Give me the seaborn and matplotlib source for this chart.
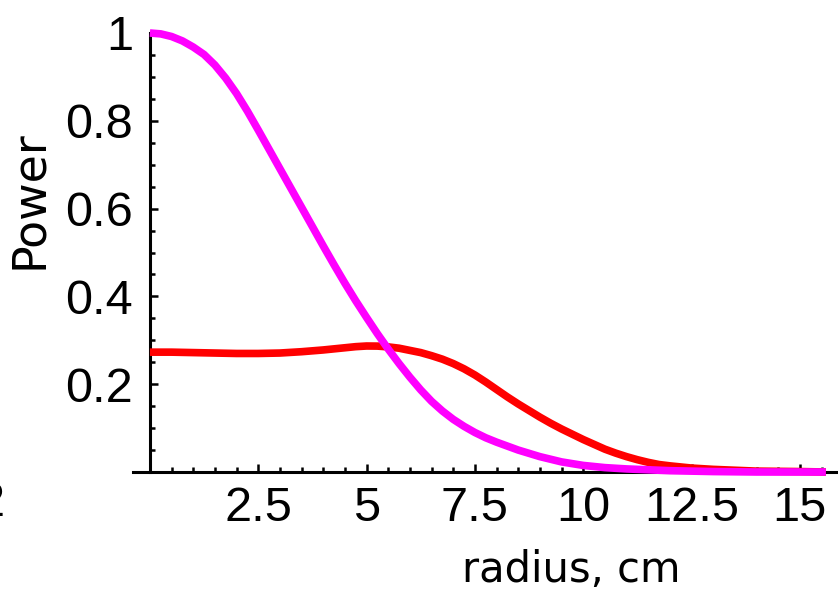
import matplotlib
matplotlib.use("Agg")
import matplotlib.pyplot as plt
import seaborn as sns
import pandas as pd
from matplotlib.ticker import FixedLocator, MultipleLocator, FixedFormatter

# ---- data ----
radius_magenta = [0, 0.25, 0.5, 0.75, 1.0, 1.25, 1.5, 1.75, 2.0, 2.25, 2.5, 2.75,
                  3.0, 3.25, 3.5, 3.75, 4.0, 4.25, 4.5, 4.75, 5.0, 5.25, 5.5, 5.75,
                  6.0, 6.25, 6.5, 6.75, 7.0, 7.25, 7.5, 7.75, 8.0, 8.5, 9.0, 9.5,
                  10.0, 10.5, 11.0, 11.5, 12.0, 12.5, 13.0, 13.5, 14.0, 15.0, 15.6]
power_magenta = [1.0, 0.998, 0.992, 0.982, 0.968, 0.951, 0.927, 0.897, 0.862, 0.822,
                 0.779, 0.735, 0.691, 0.647, 0.603, 0.559, 0.515, 0.472, 0.43, 0.39,
                 0.352, 0.315, 0.28, 0.247, 0.216, 0.187, 0.161, 0.139, 0.12, 0.104,
                 0.09, 0.078, 0.068, 0.05, 0.035, 0.023, 0.015, 0.010, 0.007, 0.005,
                 0.003, 0.002, 0.001, 0.0005, 0.0, 0.0, 0.0]
radius_red = [0, 0.5, 1.0, 1.5, 2.0, 2.5, 3.0, 3.5, 4.0, 4.5, 4.75, 5.0, 5.25, 5.5,
              5.75, 6.0, 6.25, 6.5, 6.75, 7.0, 7.25, 7.5, 7.75, 8.0, 8.25, 8.5, 8.75,
              9.0, 9.25, 9.5, 9.75, 10.0, 10.25, 10.5, 10.75, 11.0, 11.25, 11.5,
              11.75, 12.0, 12.5, 13.0, 13.5, 14.0, 15.0, 15.6]
power_red = [0.273, 0.273, 0.272, 0.271, 0.270, 0.270, 0.271, 0.274, 0.278, 0.283,
             0.2855, 0.287, 0.2868, 0.285, 0.282, 0.277, 0.272, 0.265, 0.257, 0.247,
             0.235, 0.221, 0.205, 0.188, 0.171, 0.155, 0.140, 0.125, 0.111, 0.098,
             0.086, 0.074, 0.063, 0.052, 0.043, 0.035, 0.028, 0.022, 0.017, 0.014,
             0.009, 0.006, 0.004, 0.002, 0.001, 0.0]
series_names = ["red", "magenta"]
series_colors = {"red": "#ff0000", "magenta": "#ff00ff"}
x_ticks = [2.5, 5, 7.5, 10, 12.5, 15]
x_tick_labels = ["2.5", "5", "7.5", "10", "12.5", "15"]
y_ticks = [0.2, 0.4, 0.6, 0.8, 1.0]
y_tick_labels = ["0.2", "0.4", "0.6", "0.8", "1"]
x_label = "radius, cm"
y_label = "Power"

df = pd.concat([
    pd.DataFrame({"radius": radius_red, "power": power_red, "series": "red"}),
    pd.DataFrame({"radius": radius_magenta, "power": power_magenta, "series": "magenta"}),
], ignore_index=True)

sns.set_style("white")
plt.rcParams["font.family"] = ["Liberation Sans", "DejaVu Sans"]

W, H = 838, 594
fig = plt.figure(figsize=(W / 100, H / 100), dpi=100)
ax = fig.add_axes([133 / W, 122 / H, 705 / W, 439 / H])

sns.lineplot(data=df, x="radius", y="power", hue="series", hue_order=series_names,
             palette=series_colors, linewidth=5.5, legend=False, ax=ax,
             estimator=None, sort=False)
for ln in ax.lines:
    ln.set_clip_on(False)
    ln.set_solid_capstyle("butt")
    ln.set_solid_joinstyle("round")

ax.set_xlim(-0.39, 15.88)
ax.set_ylim(0, 1.0)

for s in ["top", "right"]:
    ax.spines[s].set_visible(False)
ax.spines["left"].set_position(("data", 0))
ax.spines["left"].set_bounds(0, 1.0)
for s in ["left", "bottom"]:
    ax.spines[s].set_linewidth(2.2)
    ax.spines[s].set_color("black")
    ax.spines[s].set_zorder(1)

ax.xaxis.set_major_locator(FixedLocator(x_ticks))
ax.xaxis.set_major_formatter(FixedFormatter(x_tick_labels))
ax.yaxis.set_major_locator(FixedLocator(y_ticks))
ax.yaxis.set_major_formatter(FixedFormatter(y_tick_labels))
ax.xaxis.set_minor_locator(MultipleLocator(0.5))
ax.yaxis.set_minor_locator(MultipleLocator(0.05))

ax.tick_params(axis="both", which="both", bottom=True, left=True, top=False, right=False)
ax.tick_params(axis="both", which="major", direction="in", length=6, width=1.8,
               color="black", labelsize=35, labelcolor="black")
ax.tick_params(axis="both", which="minor", direction="in", length=3.5, width=1.8,
               color="black")
ax.tick_params(axis="y", which="major", pad=12)
ax.tick_params(axis="x", which="major", pad=10)

ax.set_xlabel("")
ax.set_ylabel("")
ax.text((571 - 133) / 705, (472 - 582) / 439, x_label, transform=ax.transAxes,
        ha="center", va="baseline", fontsize=30, color="black", family=["DejaVu Sans"])
ax.text((30 - 133) / 705, (472 - 200) / 439, y_label, transform=ax.transAxes,
        ha="center", va="center", rotation=90, fontsize=33, color="black",
        family=["DejaVu Sans"])

# partially visible glyph at the left edge (as in the reference)
fig.text(5 / W, (H - 504) / H, "2", ha="right", va="center", fontsize=35, color="black")

fig.savefig("out.png", dpi=100, facecolor="white")
